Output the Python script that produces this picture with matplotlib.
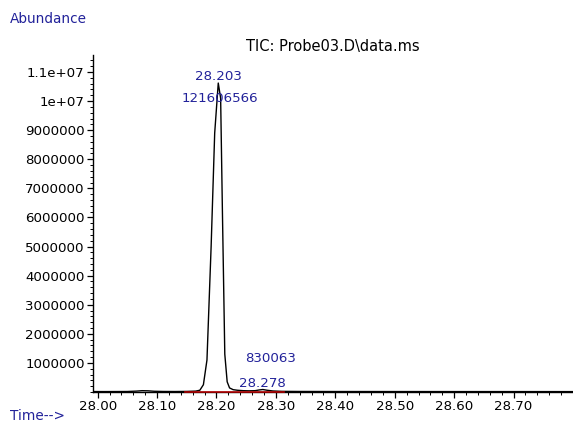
import matplotlib.pyplot as plt
from matplotlib.ticker import MultipleLocator, FixedLocator, FixedFormatter

# TIC trace (time in min, abundance counts)
time = [27.992, 28.010, 28.030, 28.050, 28.065, 28.075, 28.085, 28.095, 28.110,
        28.130, 28.150, 28.165, 28.172, 28.178, 28.184, 28.191, 28.197, 28.203,
        28.207, 28.210, 28.214, 28.218, 28.222, 28.228, 28.235, 28.245, 28.255,
        28.265, 28.272, 28.278, 28.285, 28.295, 28.310, 28.340, 28.400, 28.500,
        28.600, 28.700, 28.800]
abundance = [15000, 14000, 15000, 17000, 30000, 45000, 40000, 25000, 18000,
             16000, 20000, 30000, 60000, 250000, 1100000, 5000000, 8900000, 10620000,
             10100000, 6200000, 1300000, 350000, 140000, 80000, 60000, 45000, 40000,
             45000, 70000, 85000, 60000, 35000, 22000, 18000, 16000, 15000,
             14000, 14000, 13000]

# integration results
peak_rt = [28.203, 28.278]
peak_height = [10620000, 85000]
peak_area = [121606566, 830063]
baseline_t = [28.147, 28.313]
baseline_y = [0, 0]

xticks = [28.00, 28.10, 28.20, 28.30, 28.40, 28.50, 28.60, 28.70]
yticks = [1e6, 2e6, 3e6, 4e6, 5e6, 6e6, 7e6, 8e6, 9e6, 1e7, 1.1e7]
ylabels = ["1000000", "2000000", "3000000", "4000000", "5000000", "6000000",
           "7000000", "8000000", "9000000", "1e+07", "1.1e+07"]

blue = "#22229a"

fig = plt.figure(figsize=(5.73, 4.24), dpi=100)
ax = fig.add_axes([0.1623, 0.0755, 0.8377, 0.7945])

ax.plot(time, abundance, color="black", lw=1.0)
ax.plot(baseline_t, baseline_y, color="#b00000", lw=1.2, clip_on=False, zorder=3)

ax.set_xlim(27.9922, 28.80)
ax.set_ylim(0, 11.58e6)

ax.spines["top"].set_visible(False)
ax.spines["right"].set_visible(False)
ax.spines["left"].set_linewidth(1.0)
ax.spines["bottom"].set_linewidth(1.0)

ax.xaxis.set_major_locator(FixedLocator(xticks))
ax.xaxis.set_major_formatter(FixedFormatter(["%.2f" % v for v in xticks]))
ax.xaxis.set_minor_locator(MultipleLocator(0.02))
ax.yaxis.set_major_locator(FixedLocator(yticks))
ax.yaxis.set_major_formatter(FixedFormatter(ylabels))
ax.yaxis.set_minor_locator(MultipleLocator(200000))

ax.tick_params(which="major", direction="out", length=4, width=0.9, labelsize=9.6, pad=2)
ax.tick_params(which="minor", direction="out", length=2, width=0.7)

# peak labels
ax.annotate("%.3f" % peak_rt[0], (peak_rt[0], peak_height[0]), xytext=(0, 4.5),
            textcoords="offset points", ha="center", va="center", color=blue, fontsize=9.6)
ax.annotate(str(peak_area[0]), (peak_rt[0], peak_height[0]), xytext=(1.5, -11),
            textcoords="offset points", ha="center", va="center", color=blue, fontsize=9.6)
ax.annotate(str(peak_area[1]), (peak_rt[1], peak_height[1]), xytext=(-12.5, 22),
            textcoords="offset points", ha="left", va="center", color=blue, fontsize=9.6)
ax.annotate("%.3f" % peak_rt[1], (peak_rt[1], peak_height[1]), xytext=(-17.5, 4.5),
            textcoords="offset points", ha="left", va="center", color=blue, fontsize=9.6)

fig.text(0.581, 1 - 47 / 424, "TIC: Probe03.D\\data.ms", ha="center", va="center",
         fontsize=10.5, color="black")
fig.text(10 / 573, 1 - 19 / 424, "Abundance", ha="left", va="center", fontsize=9.8, color=blue)
fig.text(10 / 573, 1 - 416 / 424, "Time-->", ha="left", va="center", fontsize=9.8, color=blue)

fig.savefig("out.png", dpi=100)
